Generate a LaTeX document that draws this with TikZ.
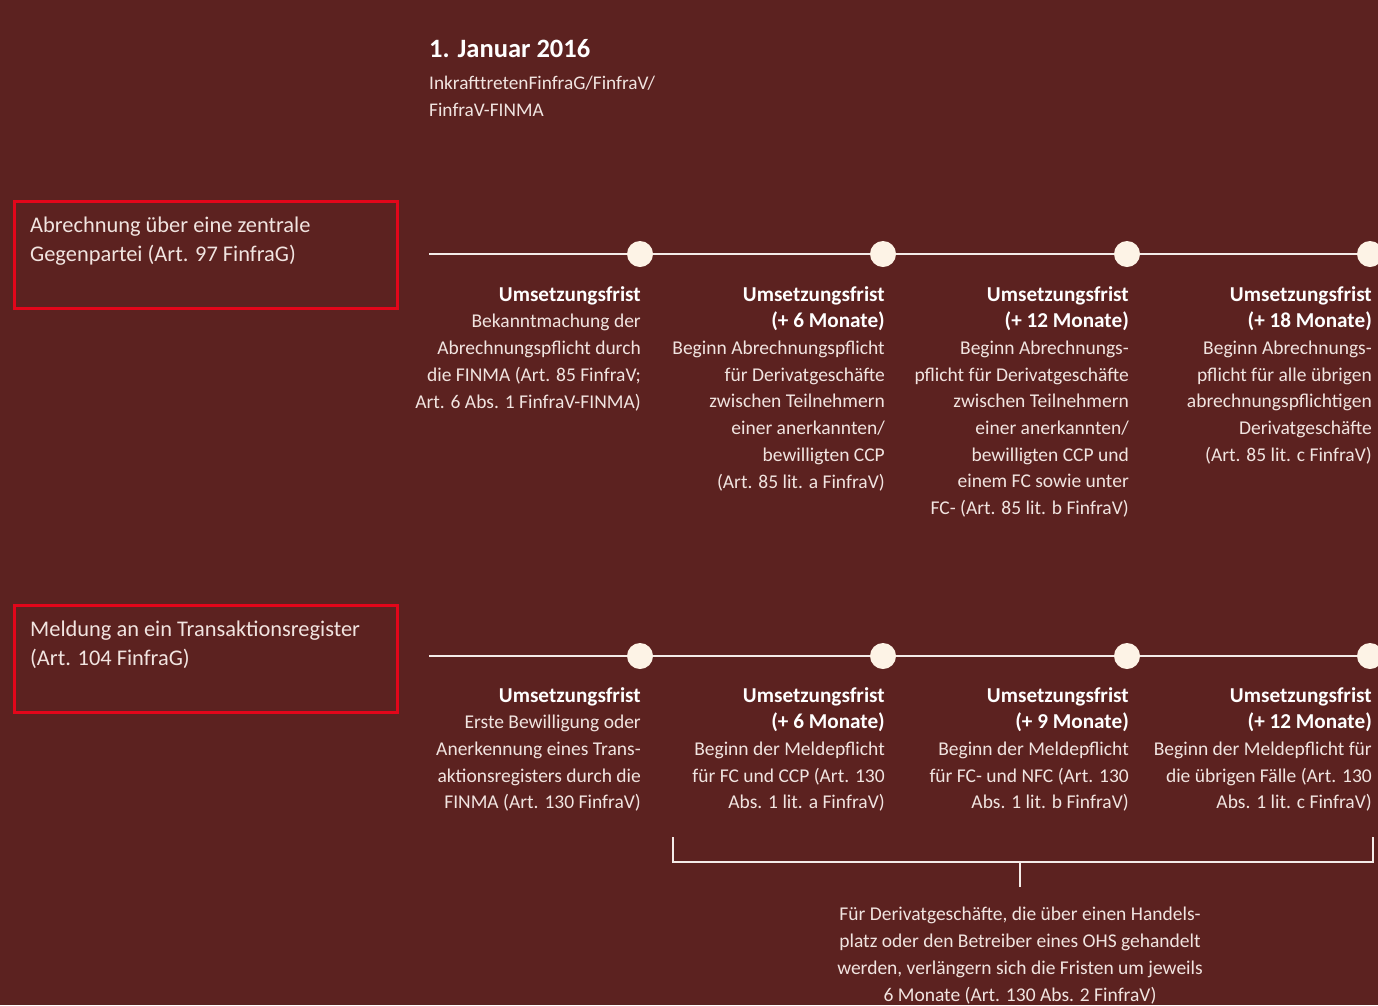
\documentclass[tikz,border=0pt]{standalone}
\usepackage{fontspec}
\setmainfont{Carlito}
\usepackage{tikz}
\usetikzlibrary{positioning,calc}
\definecolor{figBack}{HTML}{5C2220}
\definecolor{figFrame}{HTML}{E3061A}
\definecolor{figDot}{HTML}{FDF3E6}
\definecolor{figLine}{HTML}{F4ECE8}
\definecolor{figText}{HTML}{F1E4E0}
\tikzset{
  topicbox/.style={draw=figFrame,line width=3pt,minimum width=383pt,minimum height=107pt,anchor=north west,inner sep=0pt},
  topictext/.style={anchor=base west,align=left,text=figText,inner sep=0pt,
                    font=\fontsize{22.4}{29}\selectfont},
  dot/.style={circle,fill=figDot,minimum size=26pt,inner sep=0pt},
  timeline/.style={figLine,line width=2pt},
  coltext/.style={anchor=base east,align=right,text=figText,inner sep=0pt,
                  font=\fontsize{19.5}{26.7}\selectfont},
  bracket/.style={figLine,line width=2pt},
}
\newcommand{\frist}[1]{\textcolor{white}{\fontsize{21.2}{26.7}\bfseries\selectfont #1}}
\begin{document}
\begin{tikzpicture}[x=1pt,y=-1pt]
    \fill[figBack] (0,0) rectangle (1378,1005);
    \useasboundingbox (0,0) rectangle (1378,1005);
    \clip (0,0) rectangle (1378,1005);
    % date and title (multi-line nodes sit on their last baseline)
    \node[anchor=base west,inner sep=0pt,text=white,font=\fontsize{26.5}{30}\bfseries\selectfont] (date) at (429,57) {1. Januar 2016};
    \node[anchor=base west,align=left,inner sep=0pt,text=figText,font=\fontsize{19.3}{26.7}\selectfont] (start) at (429,116) {InkrafttretenFinfraG/FinfraV/\\FinfraV-FINMA};
    % topics
    \node[topicbox] (clear) at (13,200) {};
    \node[topictext] (cleartext) at (30,261) {Abrechnung über eine zentrale\\Gegenpartei (Art. 97 FinfraG)};
    \node[topicbox] (report) at (13,604) {};
    \node[topictext] (reporttext) at (30,665) {Meldung an ein Transaktionsregister\\(Art. 104 FinfraG)};
    % timelines
    \coordinate (a0) at (429,254);
    \coordinate (aend) at (1390,254);
    \coordinate (b0) at (429,656);
    \coordinate (bend) at (1390,656);
    \draw[timeline] (a0) -- (aend);
    \draw[timeline] (b0) -- (bend);
    \foreach \i/\x in {1/640,2/883,3/1127,4/1370}{
      \node[dot] (a\i) at (\x,254) {};
      \node[dot] (b\i) at (\x,656) {};
    }
    % deadlines clearing
    \node[coltext] (ta1) at (641,408) {\frist{Umsetzungsfrist}\\Bekanntmachung der\\Abrechnungspflicht durch\\die FINMA (Art. 85 FinfraV;\\Art. 6 Abs. 1 FinfraV-FINMA)};
    \node[coltext] (ta2) at (885,488) {\frist{Umsetzungsfrist}\\\frist{(+ 6 Monate)}\\Beginn Abrechnungspflicht\\für Derivatgeschäfte\\zwischen Teilnehmern\\einer anerkannten/\\bewilligten CCP\\(Art. 85 lit. a FinfraV)};
    \node[coltext] (ta3) at (1129,514.6) {\frist{Umsetzungsfrist}\\\frist{(+ 12 Monate)}\\Beginn Abrechnungs-\\pflicht für Derivatgeschäfte\\zwischen Teilnehmern\\einer anerkannten/\\bewilligten CCP und\\einem FC sowie unter\\FC- (Art. 85 lit. b FinfraV)};
    \node[coltext] (ta4) at (1372,461.2) {\frist{Umsetzungsfrist}\\\frist{(+ 18 Monate)}\\Beginn Abrechnungs-\\pflicht für alle übrigen\\abrechnungspflichtigen\\Derivatgeschäfte\\(Art. 85 lit. c FinfraV)};
    % deadlines reporting
    \node[coltext] (tb1) at (641,808.8) {\frist{Umsetzungsfrist}\\Erste Bewilligung oder\\Anerkennung eines Trans-\\aktionsregisters durch die\\FINMA (Art. 130 FinfraV)};
    \node[coltext] (tb2) at (885,808.8) {\frist{Umsetzungsfrist}\\\frist{(+ 6 Monate)}\\Beginn der Meldepflicht\\für FC und CCP (Art. 130\\Abs. 1 lit. a FinfraV)};
    \node[coltext] (tb3) at (1129,808.8) {\frist{Umsetzungsfrist}\\\frist{(+ 9 Monate)}\\Beginn der Meldepflicht\\für FC- und NFC (Art. 130\\Abs. 1 lit. b FinfraV)};
    \node[coltext] (tb4) at (1372,808.8) {\frist{Umsetzungsfrist}\\\frist{(+ 12 Monate)}\\Beginn der Meldepflicht für\\die übrigen Fälle (Art. 130\\Abs. 1 lit. c FinfraV)};
    % bracket and note
    \coordinate (bl) at (673,837);
    \coordinate (br) at (1373,837);
    \coordinate (bm) at (1020,862);
    \draw[bracket] (bl) |- (bm) -| (br);
    \node[anchor=base,align=center,inner sep=0pt,text=figText,font=\fontsize{19.5}{26.7}\selectfont] (note) at (1020,1001) {Für Derivatgeschäfte, die über einen Handels-\\platz oder den Betreiber eines OHS gehandelt\\werden, verlängern sich die Fristen um jeweils\\6 Monate (Art. 130 Abs. 2 FinfraV)};
    \draw[bracket] (bm) -- ++(0,25);
\end{tikzpicture}
\end{document}
